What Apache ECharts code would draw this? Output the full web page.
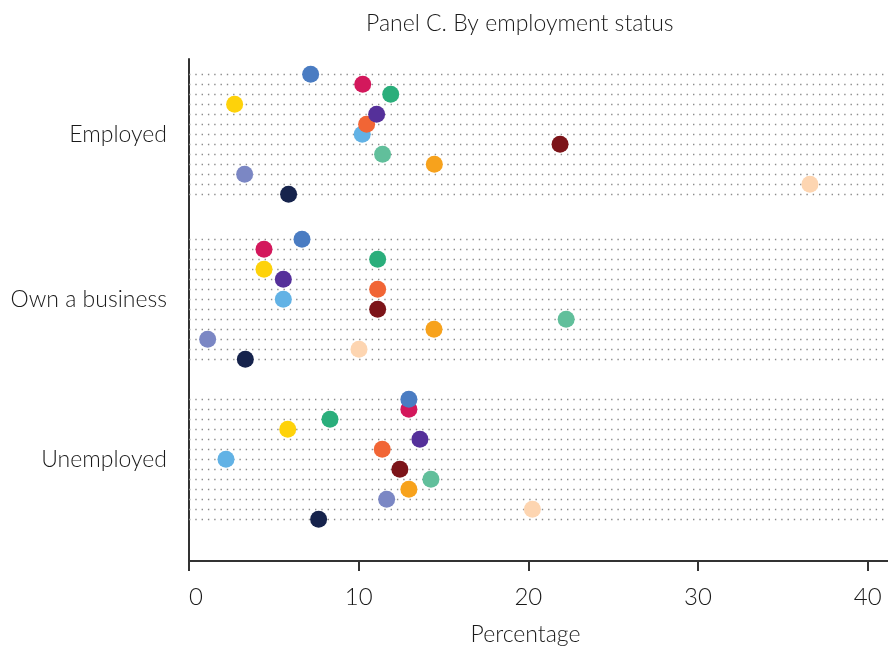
<!DOCTYPE html>
<html>
<head>
<meta charset="utf-8">
<script src="https://cdn.jsdelivr.net/npm/echarts@6/dist/echarts.min.js"></script>
<style>
html,body{margin:0;padding:0;background:#fff;}
#chart{width:888px;height:647px;}
</style>
</head>
<body>
<div id="chart"></div>
<script>
// ---- data ----
const title = 'Panel C. By employment status';
const xAxisName = 'Percentage';
const categories = ['Employed', 'Own a business', 'Unemployed'];
const xTicks = [0, 10, 20, 30, 40];
const seriesNames = ['S1','S2','S3','S4','S5','S6','S7','S8','S9','S10','S11','S12','S13'];
const employed    = [7.17, 10.24, 11.89, 2.69, 11.06, 10.47, 10.21, 21.87, 11.41, 14.46, 3.28, 36.6, 5.87];
const ownBusiness = [6.66, 4.42, 11.12, 4.42, 5.56, 11.12, 5.56, 11.12, 22.23, 14.44, 1.10, 10.02, 3.32];
const unemployed  = [12.96, 12.96, 8.31, 5.82, 13.61, 11.39, 2.18, 12.43, 14.26, 12.96, 11.65, 20.24, 7.64];
const colors = ['#4a7cc2','#d3185c','#2aae7b','#fed20a','#55309a','#f16535','#62b2e5','#7c1419','#61bf9b','#f7a21c','#7b87c4','#fdd5b1','#16234c'];

// ---- layout ----
const groupValues = [employed, ownBusiness, unemployed];
const groupOffset = [0, 16.5, 32.5];   // row units
const yMin = -1.53, yMax = 48.67;
function rowY(g, i) { return groupOffset[g] + i; }
const groupCenters = groupOffset.map(o => o + 6);

const rowLines = [];
groupOffset.forEach((o, g) => { for (let i = 0; i < seriesNames.length; i++) rowLines.push({ yAxis: rowY(g, i) }); });

const font = 'Lato, "Open Sans", sans-serif';
const textColor = '#1a1a1a';

const series = [];
series.push({
  type: 'scatter', name: 'rows', data: [], silent: true, z: 1,
  markLine: {
    silent: true, symbol: 'none', animation: false, z: 1,
    label: { show: false },
    lineStyle: { type: [1.4, 4.9], color: '#8c8c8c', width: 1.4 },
    emphasis: { disabled: true },
    data: rowLines
  }
});
for (let i = seriesNames.length - 1; i >= 0; i--) {
  series.push({
    type: 'scatter', name: seriesNames[i], symbolSize: 17,
    itemStyle: { color: colors[i], opacity: 1 },
    data: groupValues.map((arr, g) => [arr[i], rowY(g, i)]),
    z: 3
  });
}

const chart = echarts.init(document.getElementById('chart'), null, { renderer: 'canvas' });
chart.setOption({
  animation: false,
  backgroundColor: '#fff',
  title: {
    text: title, left: 361, top: 7,
    textStyle: { fontFamily: font, fontSize: 23, fontWeight: 300, color: textColor }
  },
  grid: { left: 189, right: 0, top: 59, bottom: 86, containLabel: false, outerBoundsMode: 'none' },
  xAxis: {
    type: 'value', min: 0, max: 41.2, interval: 10,
    name: xAxisName, nameLocation: 'middle', nameGap: 62,
    nameTextStyle: { fontFamily: font, fontSize: 23, fontWeight: 300, color: textColor, padding: [0, 26, 0, 0] },
    axisLine: { show: true, onZero: false, lineStyle: { color: '#333', width: 2 } },
    axisTick: { show: true, length: 10, lineStyle: { color: '#333', width: 2 }, customValues: xTicks },
    axisLabel: { customValues: xTicks, alignMinLabel: 'left', margin: 24, fontFamily: font, fontSize: 24, fontWeight: 300, color: textColor },
    splitLine: { show: false }
  },
  yAxis: {
    type: 'value', inverse: true, min: yMin, max: yMax,
    axisLine: { show: true, onZero: false, lineStyle: { color: '#333', width: 2 } },
    axisTick: { show: false },
    splitLine: { show: false },
    axisLabel: {
      customValues: groupCenters, margin: 22,
      formatter: v => { const k = groupCenters.indexOf(v); return k >= 0 ? categories[k] : ''; },
      fontFamily: font, fontSize: 23, fontWeight: 300, color: textColor
    }
  },
  series: series
});
</script>
</body>
</html>
